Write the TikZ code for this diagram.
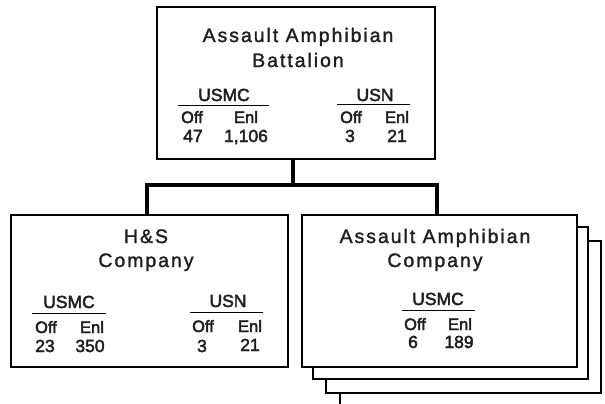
\documentclass[tikz,border=0pt]{standalone}
\usepackage{fontspec}
\setmainfont{Liberation Sans}
\newfontfamily\ttlfont[LetterSpace=10,FakeBold=1.5]{Liberation Sans}
\newfontfamily\lblfont[FakeBold=2.5]{Liberation Sans}
\usetikzlibrary{calc}
\begin{document}
\begin{tikzpicture}[x=1pt,y=-1pt,
  box/.style={draw, line width=2pt, fill=white, inner sep=0pt},
  conn/.style={line width=4.5pt},
  ttl/.style={anchor=base, inner sep=0pt, text=black!88, font=\ttlfont\fontsize{19.5}{19.5}\selectfont},
  hdr/.style={anchor=base, inner sep=0pt, text=black!88, font=\lblfont\fontsize{17.5}{17.5}\selectfont},
  col/.style={anchor=base, inner sep=0pt, text=black!88, font=\lblfont\fontsize{16.5}{16.5}\selectfont},
  num/.style={anchor=base, inner sep=0pt, text=black!88, font=\lblfont\fontsize{17.5}{17.5}\selectfont},
  rulel/.style={line width=1pt}]
\useasboundingbox[fill=white] (0,0) rectangle (605,404);

% boxes
\node[box, minimum width=278pt, minimum height=152pt] (top) at (296,83) {};
\node[box, minimum width=277pt, minimum height=152pt] (hs) at (149.5,291) {};
\node[box, minimum width=275pt, minimum height=152pt] (b3) at (463.5,317) {};
\node[box, minimum width=275pt, minimum height=152pt] (b2) at (450.5,303) {};
\node[box, minimum width=275pt, minimum height=152pt] (aac) at (439.5,291) {};

% connectors
\draw[conn] ($(top.south)+(-3,0)$) -- ($(top.south)+(-3,27)$);
\draw[conn] ($(hs.north)+(-2.5,0)$) -- ++(0,-29) -| ($(aac.north)+(-2.5,0)$);
\coordinate (tailend) at (340,404);
\draw[line width=2pt] (b3.south -| tailend) -- (tailend);

% top box text
\node[ttl] (t1) at (298,42) {Assault Amphibian};
\node[ttl] (t2) at (298,67) {Battalion};
\node[hdr] (tusmc) at (224,101) {USMC};
\draw[rulel] (178,105) -- (269,105);
\node[col] (toff) at (192,123) {Off};
\node[col] (tenl) at (246,123) {Enl};
\node[num] (tn1) at (193,142) {47};
\node[num] (tn2) at (246,142) {1,106};
\node[hdr] (tusn) at (375,101) {USN};
\draw[rulel] (337,104) -- (410,104);
\node[col] (toff2) at (351,123) {Off};
\node[col] (tenl2) at (397,123) {Enl};
\node[num] (tn3) at (350,142) {3};
\node[num] (tn4) at (397,142) {21};

% H&S text
\node[ttl] (h1) at (146,243) {H\&S};
\node[ttl] (h2) at (146,267) {Company};
\node[hdr] (husmc) at (69,308) {USMC};
\draw[rulel] (32,313) -- (106,313);
\node[col] (hoff) at (46,333) {Off};
\node[col] (henl) at (92,333) {Enl};
\node[num] (hn1) at (45,352) {23};
\node[num] (hn2) at (90,352) {350};
\node[hdr] (husn) at (228,307) {USN};
\draw[rulel] (190,312) -- (263,312);
\node[col] (hoff2) at (203,332) {Off};
\node[col] (henl2) at (250,332) {Enl};
\node[num] (hn3) at (202,352) {3};
\node[num] (hn4) at (250,351) {21};

% AAC text
\node[ttl] (a1) at (435,243) {Assault Amphibian};
\node[ttl] (a2) at (435,267) {Company};
\node[hdr] (ausmc) at (438,305) {USMC};
\draw[rulel] (402,310) -- (475,310);
\node[col] (aoff) at (415,330) {Off};
\node[col] (aenl) at (460,330) {Enl};
\node[num] (an1) at (413,348) {6};
\node[num] (an2) at (459,348) {189};
\end{tikzpicture}
\end{document}
